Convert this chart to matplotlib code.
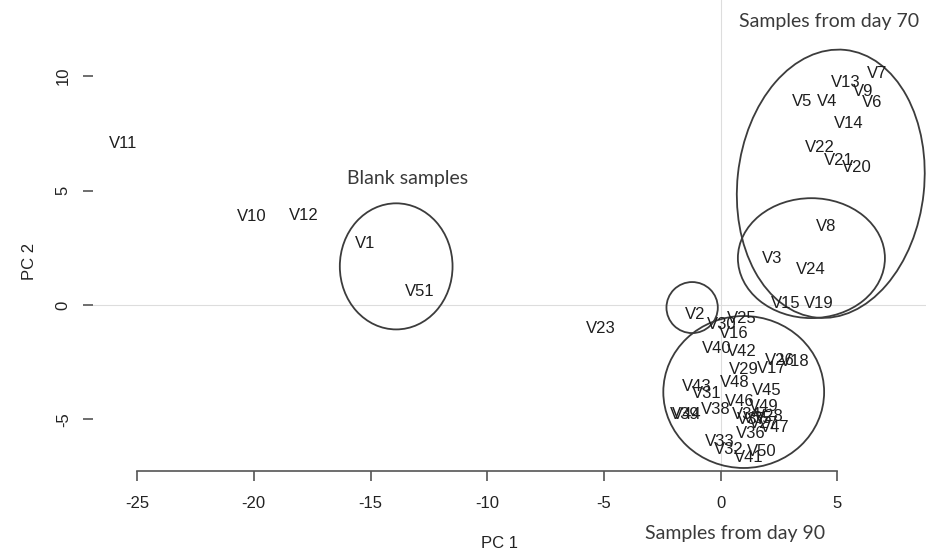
import matplotlib
matplotlib.use('Agg')
import matplotlib.pyplot as plt
from matplotlib.patches import Ellipse
from matplotlib.transforms import offset_copy

# sample labels and their PCA scores
labels = ['V1', 'V2', 'V3', 'V4', 'V5', 'V6', 'V7', 'V8', 'V9', 'V10',
          'V11', 'V12', 'V13', 'V14', 'V15', 'V16', 'V17', 'V18', 'V19', 'V20',
          'V21', 'V22', 'V23', 'V24', 'V25', 'V26', 'V27', 'V28', 'V29', 'V30',
          'V31', 'V32', 'V33', 'V34', 'V35', 'V36', 'V37', 'V38', 'V39', 'V40',
          'V41', 'V42', 'V43', 'V44', 'V45', 'V46', 'V47', 'V48', 'V49', 'V50',
          'V51']
pc1 = [-15.24, -1.09, 2.19, 4.58, 3.48, 6.48, 6.70, 4.52, 6.12, -20.07,
       -25.60, -17.87, 5.34, 5.47, 2.77, 0.56, 2.19, 3.19, 4.19, 5.84,
       5.05, 4.24, -5.13, 3.87, 0.91, 2.55, 1.84, 2.05, 0.98, 0.05,
       -0.59, 0.34, -0.02, 1.12, 1.60, 1.27, 1.34, -0.23, -1.52, -0.16,
       1.19, 0.91, -1.02, -1.47, 1.98, 0.84, 2.34, 0.62, 1.84, 1.77,
       -12.91]
pc2 = [2.77, -0.36, 2.11, 8.94, 8.94, 8.90, 10.17, 3.49, 9.41, 3.93,
       7.13, 3.97, 9.78, 7.99, 0.14, -1.19, -2.69, -2.40, 0.14, 6.08,
       6.40, 6.93, -0.95, 1.63, -0.51, -2.37, -5.13, -4.80, -2.76, -0.80,
       -3.78, -6.25, -5.89, -4.72, -4.90, -5.53, -4.94, -4.51, -4.72, -1.82,
       -6.61, -1.96, -3.49, -4.72, -3.68, -4.14, -5.28, -3.34, -4.36, -6.32,
       0.66]

# hand drawn group outlines: centre x, centre y, width, height, angle
groups = ['blank', 'v2', 'day70', 'day70b', 'day90']
grp_x = [-13.90, -1.22, 4.72, 3.89, 0.99]
grp_y = [1.69, -0.11, 5.30, 2.05, -3.80]
grp_w = [4.83, 2.20, 8.0, 6.30, 6.89]
grp_h = [5.51, 2.23, 11.76, 5.24, 6.64]
grp_a = [0, 0, -6, 0, 0]

x_ticks = [-25, -20, -15, -10, -5, 0, 5]
y_ticks = [-5, 0, 5, 10]

W, H = 926, 550
fig = plt.figure(figsize=(W / 100, H / 100), dpi=100)
ax = fig.add_axes([93 / W, (H - 470.5) / H, (W - 93) / W, 470.5 / H])
ax.set_xlim(-26.89, 8.80)
ax.set_ylim(-7.23, 13.33)
ax.patch.set_alpha(0)

for s in ['top', 'right', 'left']:
    ax.spines[s].set_visible(False)
ax.spines['bottom'].set_bounds(-25, 5)
ax.spines['bottom'].set_color('#555555')
ax.spines['bottom'].set_linewidth(1.2)

ax.set_xticks(x_ticks)
ax.set_xticklabels([str(t) for t in x_ticks])
ax.set_yticks(y_ticks)
ax.set_yticklabels([str(t) for t in y_ticks])
ax.tick_params(axis='x', length=7, width=1.2, color='#555555', pad=11,
               labelsize=12, labelcolor='#222222')
ax.tick_params(axis='y', length=7, width=1.2, color='#555555', pad=9,
               labelsize=12, labelcolor='#222222', labelrotation=90)
for lab in ax.get_yticklabels():
    lab.set_va('center')
for lab in ax.get_xticklabels() + ax.get_yticklabels():
    lab.set_family('Liberation Sans')

# faint reference lines through the origin
ax.axhline(0, color='#dddddd', lw=0.8, zorder=0)
ax.axvline(0, color='#dddddd', lw=0.8, zorder=0)

# labels centred on the points (baseline shifted down by half cap height)
tr = offset_copy(ax.transData, fig=fig, x=0, y=-6, units='dots')
for name, x, y in zip(labels, pc1, pc2):
    ax.text(x, y, name, transform=tr, ha='center', va='baseline',
            fontsize=12, family='Liberation Sans', color='#1e1e1e')

for cx, cy, w, h, a in zip(grp_x, grp_y, grp_w, grp_h, grp_a):
    ax.add_patch(Ellipse((cx, cy), w, h, angle=a, fill=False,
                         edgecolor='#3c3c3c', lw=1.3, clip_on=False))

# axis titles
fig.text(500 / W, 1 - 548 / H, 'PC 1', ha='center', va='baseline',
         fontsize=12, family='Liberation Sans', color='#222222')
fig.text(30 / W, 1 - 261 / H, 'PC 2', ha='center', va='center', rotation=90,
         fontsize=12, family='Liberation Sans', color='#222222')

# annotations added on the figure
fig.text(829 / W, 1 - 21.7 / H, 'Samples from day 70', ha='center', va='center',
         fontsize=14, family='Lato', color='#3a3a3a')
fig.text(735 / W, 1 - 534 / H, 'Samples from day 90', ha='center', va='center',
         fontsize=14, family='Lato', color='#3a3a3a')
fig.text(407.7 / W, 1 - 178.3 / H, 'Blank samples', ha='center', va='center',
         fontsize=14, family='Lato', color='#3a3a3a')

fig.savefig('out.png', dpi=100)
